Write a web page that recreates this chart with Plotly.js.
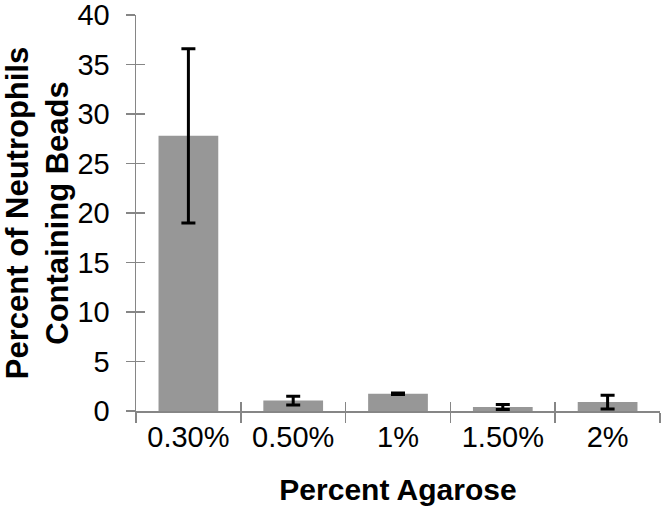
<!DOCTYPE html>
<html>
<head>
<meta charset="utf-8">
<script src="https://cdn.plot.ly/plotly-3.0.1.min.js"></script>
<style>
html,body{margin:0;padding:0;background:#fff;}
#chart{width:664px;height:512px;}
</style>
</head>
<body>
<div id="chart"></div>
<script>
var categories = ["0.30%", "0.50%", "1%", "1.50%", "2%"];
var values = [27.8, 1.05, 1.75, 0.4, 0.9];
var errors = [8.8, 0.45, 0.08, 0.25, 0.7];
var yTicks = [0, 5, 10, 15, 20, 25, 30, 35, 40];

var font = "Liberation Sans, Arial, sans-serif";
var axisColor = "#868686";

var traces = [
  {
    type: "bar",
    x: categories,
    y: values,
    marker: {color: "#979797", line: {width: 0}},
    error_y: {type: "data", array: errors, visible: true, color: "#000000", thickness: 3, width: 7},
    xaxis: "x", yaxis: "y",
    hoverinfo: "none"
  },
  {
    type: "scatter",
    mode: "markers",
    x: categories,
    y: values,
    marker: {opacity: 0},
    xaxis: "x2", yaxis: "y2",
    hoverinfo: "none",
    showlegend: false
  }
];

var layout = {
  width: 664,
  height: 512,
  margin: {l: 136, r: 4, t: 15, b: 101},
  paper_bgcolor: "#ffffff",
  plot_bgcolor: "#ffffff",
  showlegend: false,
  bargap: 0.43,
  font: {family: font, color: "#000000"},
  xaxis: {
    type: "category",
    categoryarray: categories,
    tickson: "boundaries",
    ticks: "outside",
    ticklen: 10,
    tickwidth: 1.5,
    tickcolor: axisColor,
    showline: true,
    linecolor: axisColor,
    linewidth: 1.5,
    showgrid: false,
    zeroline: false,
    ticklabeloverflow: "allow",
    tickfont: {size: 29, color: "#000000", family: font},
    title: {text: "Percent Agarose", font: {size: 30, color: "#000000", family: font, weight: "bold"}, standoff: 26},
    automargin: false,
    fixedrange: true
  },
  yaxis: {
    range: [0, 40],
    tickvals: yTicks,
    ticks: "outside",
    ticklen: 9,
    tickwidth: 1.5,
    tickcolor: axisColor,
    ticklabelstandoff: 10,
    ticklabeloverflow: "allow",
    showline: true,
    linecolor: axisColor,
    linewidth: 1.5,
    showgrid: false,
    zeroline: false,
    tickfont: {size: 29, color: "#000000", family: font},
    title: {text: "Percent of Neutrophils<br>Containing Beads", font: {size: 31, color: "#000000", family: font, weight: "bold"}, standoff: 6},
    automargin: false,
    fixedrange: true
  },
  xaxis2: {
    type: "category",
    categoryarray: categories,
    overlaying: "x",
    matches: "x",
    side: "bottom",
    anchor: "y2",
    tickson: "boundaries",
    ticks: "inside",
    ticklen: 9,
    tickwidth: 1.5,
    tickcolor: axisColor,
    showticklabels: false,
    showline: false,
    showgrid: false,
    zeroline: false
  },
  yaxis2: {
    range: [0, 40],
    overlaying: "y",
    tickvals: yTicks,
    ticks: "inside",
    ticklen: 9,
    tickwidth: 1.5,
    tickcolor: axisColor,
    showticklabels: false,
    showline: false,
    showgrid: false,
    zeroline: false,
    anchor: "x2"
  }
};

Plotly.newPlot("chart", traces, layout, {displayModeBar: false, staticPlot: true});
</script>
</body>
</html>
